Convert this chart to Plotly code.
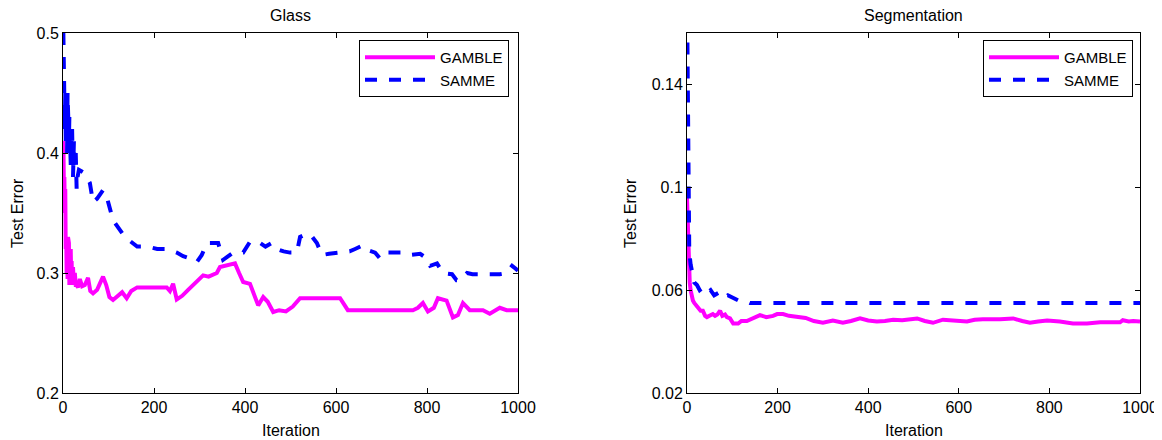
import plotly.graph_objects as go
from plotly.subplots import make_subplots

# ---------------- data ----------------
glass_gamble_iter = [0, 1, 2, 3, 4, 5, 6, 7, 8, 9, 10, 11, 12, 13, 14, 15, 16, 17, 18, 19, 20, 22, 24, 26, 28, 30,
                     33, 37, 42, 48, 55, 60, 66, 75, 82, 88, 95, 102, 110, 120, 130, 140, 150, 163, 228, 235, 242,
                     250, 262, 275, 286, 298, 308, 320, 338, 345, 360, 378, 387, 396, 411, 429, 440, 450, 462, 475,
                     490, 505, 521, 609, 626, 769, 780, 791, 802, 815, 824, 843, 857, 868, 879, 894, 923, 938, 960,
                     975, 1000]
glass_gamble = [0.41, 0.405, 0.37, 0.38, 0.35, 0.37, 0.32, 0.33, 0.30, 0.32, 0.295, 0.33, 0.30, 0.325, 0.29, 0.31,
                0.29, 0.32, 0.295, 0.31, 0.29, 0.305, 0.29, 0.30, 0.29, 0.29, 0.288, 0.295, 0.289, 0.29, 0.296,
                0.285, 0.283, 0.286, 0.292, 0.297, 0.29, 0.28, 0.2775, 0.281, 0.284, 0.279, 0.285, 0.288, 0.288,
                0.285, 0.291, 0.278, 0.281, 0.286, 0.29, 0.295, 0.298, 0.297, 0.30, 0.305, 0.306, 0.308, 0.30,
                0.2925, 0.291, 0.273, 0.28, 0.276, 0.2675, 0.269, 0.268, 0.272, 0.279, 0.279, 0.269, 0.269, 0.271,
                0.275, 0.268, 0.271, 0.279, 0.277, 0.263, 0.265, 0.275, 0.269, 0.269, 0.266, 0.271, 0.269, 0.269]

glass_samme_iter = [0, 1, 2, 3, 4, 5, 6, 7, 8, 9, 10, 11, 12, 13, 14, 15, 16, 17, 18, 19, 20, 22, 24, 26, 28, 30,
                    32, 35, 44, 52, 59, 66, 75, 88, 95, 110, 136, 163, 185, 207, 228, 250, 264, 280, 294, 305, 316,
                    330, 341, 352, 374, 396, 411, 429, 445, 459, 470, 485, 499, 514, 521, 538, 548, 558, 569, 585,
                    602, 615, 630, 642, 659, 670, 686, 697, 710, 745, 760, 785, 800, 807, 822, 835, 855, 865, 873,
                    888, 900, 943, 960, 975, 987, 1000]
glass_samme = [0.52, 0.48, 0.44, 0.47, 0.42, 0.45, 0.41, 0.44, 0.43, 0.40, 0.45, 0.42, 0.44, 0.41, 0.43, 0.40,
               0.42, 0.39, 0.41, 0.40, 0.42, 0.38, 0.41, 0.39, 0.40, 0.37, 0.38, 0.386, 0.384, 0.38, 0.375, 0.359,
               0.362, 0.369, 0.365, 0.344, 0.33, 0.322, 0.322, 0.32, 0.32, 0.317, 0.314, 0.312, 0.309, 0.315,
               0.325, 0.325, 0.325, 0.311, 0.317, 0.317, 0.326, 0.326, 0.322, 0.325, 0.32, 0.318, 0.317, 0.317,
               0.33, 0.333, 0.33, 0.325, 0.315, 0.316, 0.317, 0.317, 0.318, 0.32, 0.323, 0.319, 0.317, 0.312,
               0.317, 0.317, 0.315, 0.316, 0.312, 0.306, 0.308, 0.30, 0.299, 0.294, 0.294, 0.30, 0.299, 0.299,
               0.299, 0.30, 0.306, 0.302]

seg_gamble_iter = [0, 1, 2, 3, 4, 6, 8, 10, 13, 16, 20, 25, 30, 35, 40, 44, 50, 57, 62, 67, 73, 78, 84, 88, 95,
                   102, 113, 120, 132, 145, 161, 175, 190, 199, 212, 225, 243, 262, 280, 300, 322, 344, 362, 382,
                   400, 419, 437, 455, 475, 492, 508, 525, 543, 565, 590, 618, 635, 653, 691, 720, 740, 757, 775,
                   795, 823, 852, 883, 912, 940, 956, 962, 975, 985, 1000]
seg_gamble = [0.096, 0.09, 0.08, 0.07, 0.066, 0.063, 0.06, 0.058, 0.056, 0.055, 0.054, 0.053, 0.052, 0.052, 0.05,
              0.0495, 0.05, 0.0507, 0.05, 0.0505, 0.052, 0.05, 0.0505, 0.0495, 0.049, 0.047, 0.047, 0.048, 0.048,
              0.049, 0.0503, 0.0495, 0.05, 0.0507, 0.0507, 0.05, 0.0495, 0.0492, 0.048, 0.0473, 0.0482, 0.0473,
              0.048, 0.049, 0.0482, 0.0478, 0.048, 0.0485, 0.0483, 0.0485, 0.049, 0.048, 0.0473, 0.0485, 0.048,
              0.0478, 0.0485, 0.0487, 0.0487, 0.049, 0.048, 0.0473, 0.0478, 0.0482, 0.0478, 0.047, 0.047, 0.0475,
              0.0475, 0.0475, 0.0483, 0.0478, 0.048, 0.0478]

seg_samme_iter = [0, 1, 2, 3, 4, 5, 8, 12, 16, 22, 28, 35, 44, 52, 60, 70, 80, 90, 100, 113, 125, 139, 1000]
seg_samme = [0.175, 0.15, 0.12, 0.10, 0.085, 0.075, 0.07, 0.066, 0.063, 0.062, 0.06, 0.061, 0.059, 0.06, 0.058,
             0.059, 0.057, 0.058, 0.057, 0.056, 0.056, 0.055, 0.055]

titles = ["Glass", "Segmentation"]
x_title = "Iteration"
y_title = "Test Error"
x_ticks = [0, 200, 400, 600, 800, 1000]
glass_y_ticks = [0.2, 0.3, 0.4, 0.5]
seg_y_ticks = [0.02, 0.06, 0.1, 0.14]
seg_y_ticktext = ["0.02", "0.06", "0.1", "0.14"]

MAGENTA = "#FF00FF"
BLUE = "#0000FF"
FONT = "Liberation Sans, Arial, sans-serif"
FS = 16

fig = make_subplots(rows=1, cols=2, horizontal_spacing=0.1)

fig.add_trace(go.Scatter(x=glass_gamble_iter, y=glass_gamble, mode="lines", name="GAMBLE",
                         line=dict(color=MAGENTA, width=4), legend="legend"), row=1, col=1)
fig.add_trace(go.Scatter(x=glass_samme_iter, y=glass_samme, mode="lines", name="SAMME",
                         line=dict(color=BLUE, width=4, dash="dash"), legend="legend"), row=1, col=1)
fig.add_trace(go.Scatter(x=seg_gamble_iter, y=seg_gamble, mode="lines", name="GAMBLE",
                         line=dict(color=MAGENTA, width=4), legend="legend2"), row=1, col=2)
fig.add_trace(go.Scatter(x=seg_samme_iter, y=seg_samme, mode="lines", name="SAMME",
                         line=dict(color=BLUE, width=4, dash="dash"), legend="legend2"), row=1, col=2)

# page body has an 8px margin; figure coords = reference coords - 8
OFF = 8
W, H = 1162 - OFF, 440 - OFF
ml, mt = 63 - OFF, 33 - OFF
mr = W - (1140 - OFF)
mb = H - (393 - OFF)
pw = W - ml - mr
ph = H - mt - mb
d1 = [0, (518 - 63) / pw]
d2 = [(687 - 63) / pw, 1]

axis_common = dict(showline=True, linecolor="black", linewidth=1, mirror="ticks", ticks="inside",
                   ticklen=5, tickcolor="black", showgrid=False, zeroline=False, automargin=False,
                   ticklabeloverflow="allow",
                   tickfont=dict(family=FONT, size=FS, color="black"))

fig.update_xaxes(**axis_common, range=[0, 1000], tickvals=x_ticks)
fig.update_xaxes(domain=d1, row=1, col=1)
fig.update_xaxes(domain=d2, row=1, col=2)
fig.update_yaxes(**axis_common)
fig.update_yaxes(range=[0.2, 0.5], tickvals=glass_y_ticks, row=1, col=1)
fig.update_yaxes(range=[0.02, 0.16], tickvals=seg_y_ticks, ticktext=seg_y_ticktext, row=1, col=2)

legend_common = dict(bordercolor="black", borderwidth=1, bgcolor="white",
                     font=dict(family=FONT, size=15, color="black"),
                     xanchor="right", yanchor="top", itemwidth=70, tracegroupgap=0)
fig.update_layout(
    legend=dict(**legend_common, x=(509 - 63) / pw, y=1 - 7 / ph),
    legend2=dict(**legend_common, x=(1133 - 63) / pw, y=1 - 7 / ph),
)

ytitle_shift = [-46, -57]
for i, t in enumerate(titles):
    dom = d1 if i == 0 else d2
    cx = (dom[0] + dom[1]) / 2
    fig.add_annotation(text=t, x=cx, y=1, xref="paper", yref="paper",
                       xanchor="center", yanchor="middle", yshift=18, showarrow=False,
                       font=dict(family=FONT, size=FS, color="black"))
    fig.add_annotation(text=x_title, x=cx, y=0, xref="paper", yref="paper",
                       xanchor="center", yanchor="middle", yshift=-37, showarrow=False,
                       font=dict(family=FONT, size=FS, color="black"))
    fig.add_annotation(text=y_title, x=dom[0], y=0.5, xref="paper", yref="paper",
                       xanchor="center", yanchor="middle", xshift=ytitle_shift[i], textangle=-90,
                       showarrow=False, font=dict(family=FONT, size=FS, color="black"))

fig.update_layout(width=W, height=H, margin=dict(l=ml, r=mr, t=mt, b=mb, autoexpand=False),
                  plot_bgcolor="white", paper_bgcolor="white", showlegend=True)

fig.write_html("out.html")
